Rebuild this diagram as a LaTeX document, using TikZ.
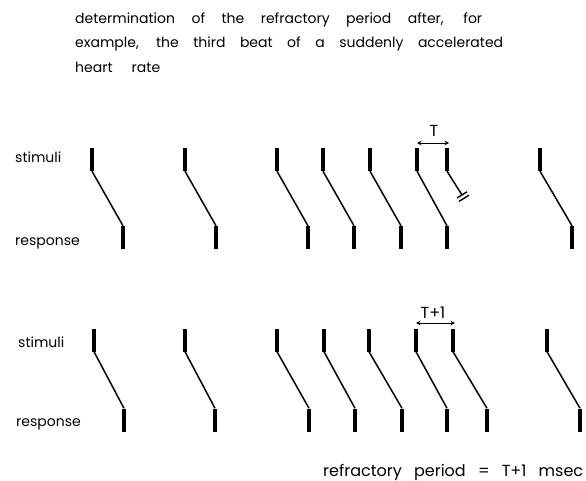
\documentclass[tikz,border=0pt]{standalone}
\usepackage{fontspec}
\setmainfont{Poppins}
\usetikzlibrary{arrows.meta,calc}
\begin{document}
\begin{tikzpicture}[x=1pt,y=-1pt,
  bar/.style={fill=black,inner sep=0pt,minimum width=4.5pt,minimum height=23pt},
  link/.style={line width=1.5pt},
  lbl/.style={inner sep=0pt,anchor=base west,font=\fontsize{14}{16}\selectfont},
  big/.style={font=\fontsize{16}{18}\selectfont},
  dim/.style={line width=0.9pt,{Stealth[length=4.5pt,width=4.5pt]}-{Stealth[length=4.5pt,width=4.5pt]}}]
\useasboundingbox (0,0) rectangle (586,481);
% title
\node[lbl] (t1) at (75,24) {\makebox[407pt][s]{determination of the refractory period after, for}};
\node[lbl] (t2) at (75,48) {\makebox[428pt][s]{example, the third beat of a suddenly accelerated}};
\node[lbl] (t3) at (75,73) {\makebox[85pt][s]{heart rate}};
% labels
\node[lbl] (ls1) at (15,163) {stimuli};
\node[lbl] (lr1) at (15,245) {response};
\node[lbl] (ls2) at (18,347) {stimuli};
\node[lbl] (lr2) at (16,426) {response};
% top row
\foreach \i/\sx/\rx in {1/92/123,2/185/216,3/277/308,4/323/354,5/370/401,6/417/447,8/540/572}{
  \node[bar] (s\i) at (\sx,159.5) {};
  \node[bar] (r\i) at (\rx,237.5) {};
  \draw[link] (s\i.south) -- (r\i.north);
}
\node[bar] (s7) at (447,159.5) {};
\coordinate (blk) at (462,195);
\draw[link] (s7.south) -- (blk);
\draw[line width=1.4pt] ($(blk)+(-5,3)$) -- ($(blk)+(5,-3.2)$);
\draw[line width=1.4pt] ($(blk)+(-3,6.4)$) -- ($(blk)+(7,0.2)$);
\coordinate (ta) at (417,143);
\coordinate (tb) at (449,143);
\draw[dim] (ta) -- (tb);
\node[lbl,big,anchor=base] (T) at (434,137) {T};
% bottom row
\foreach \i/\sx/\rx in {1/94/124,2/185/215,3/277/309,4/324/355,5/369/402,6/416/447,7/453/487,8/547/580}{
  \node[bar] (bs\i) at (\sx,340) {};
  \node[bar] (br\i) at (\rx,420) {};
  \draw[link] (bs\i.south) -- (br\i.north);
}
\coordinate (ua) at (416,323);
\coordinate (ub) at (455,323);
\draw[dim] (ua) -- (ub);
\node[lbl,big,anchor=base] (T1) at (433,318) {T+1};
\node[lbl,big] (rp) at (323,476) {\makebox[260pt][s]{refractory period = T+1 msec}};
\end{tikzpicture}
\end{document}
